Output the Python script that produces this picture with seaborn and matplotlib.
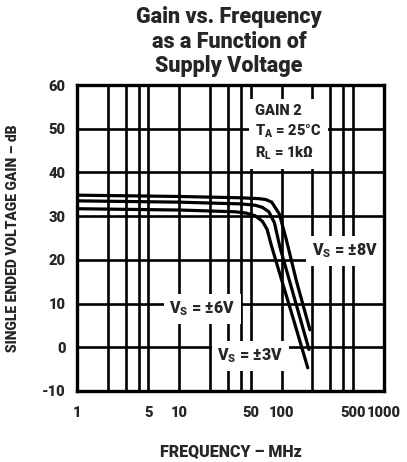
import numpy as np
import pandas as pd
import matplotlib
matplotlib.use("Agg")
import matplotlib.pyplot as plt
import seaborn as sns

# ---- data ----
freq_8v = [1, 10, 40, 60, 70, 80, 95, 110, 140, 189]
gain_8v = [34.8, 34.5, 34.2, 34.0, 33.8, 33.2, 30.5, 25.0, 15.0, 4.0]

freq_6v = [1, 10, 40, 55, 65, 75, 85, 96, 120, 150, 185]
gain_6v = [33.5, 33.2, 32.8, 32.5, 32.0, 31.0, 28.5, 23.0, 15.0, 7.0, -0.5]

freq_3v = [1, 10, 35, 45, 55, 65, 72, 80, 100, 130, 180]
gain_3v = [31.7, 31.4, 31.0, 30.7, 30.1, 28.8, 27.0, 23.0, 15.4, 6.5, -4.7]

series_names = ["±8V", "±6V", "±3V"]

xgrid = [1, 2, 3, 4, 5, 10, 20, 30, 40, 50, 100, 200, 300, 400, 500, 1000]
xticks = [1, 5, 10, 50, 100, 500, 1000]
xticklabels = ["1", "5", "10", "50", "100", "500", "1000"]
yticks = [-10, 0, 10, 20, 30, 40, 50, 60]
yticklabels = ["-10", "0", "10", "20", "30", "40", "50", "60"]

df = pd.concat([
    pd.DataFrame({"freq": freq_8v, "gain": gain_8v, "vs": series_names[0]}),
    pd.DataFrame({"freq": freq_6v, "gain": gain_6v, "vs": series_names[1]}),
    pd.DataFrame({"freq": freq_3v, "gain": gain_3v, "vs": series_names[2]}),
])

sns.set_style("white")
FONT = ["Roboto", "Liberation Sans", "DejaVu Sans"]
WEIGHT = "black"
plt.rcParams["font.family"] = FONT
plt.rcParams["font.weight"] = WEIGHT
plt.rcParams["axes.unicode_minus"] = False
plt.rcParams["mathtext.fontset"] = "custom"
plt.rcParams["mathtext.rm"] = "Roboto:black"
plt.rcParams["mathtext.bf"] = "Roboto:black"
plt.rcParams["mathtext.it"] = "Roboto:black"

fig = plt.figure(figsize=(4.07, 4.62), dpi=100)
ax = fig.add_axes([0.189, 0.1537, 0.7545, 0.6623])

ax.set_xscale("log")
ax.set_xlim(1, 1000)
ax.set_ylim(-10, 60)

for x in xgrid:
    ax.axvline(x, color="black", lw=1.9, zorder=1)
for y in yticks:
    ax.axhline(y, color="black", lw=1.9, zorder=1)

sns.lineplot(data=df, x="freq", y="gain", hue="vs", sort=False,
             palette=["black"] * 3, legend=False, lw=2.3, ax=ax, zorder=3)

ax.set_xticks(xticks)
ax.set_xticklabels(xticklabels)
ax.xaxis.set_minor_locator(matplotlib.ticker.NullLocator())
ax.set_yticks(yticks)
ax.set_yticklabels(yticklabels)
ax.tick_params(axis="both", length=0, labelsize=10.5)
ax.tick_params(axis="x", pad=11)
ax.tick_params(axis="y", pad=8)
for lab in ax.get_xticklabels() + ax.get_yticklabels():
    lab.set_fontweight(WEIGHT)

for s in ax.spines.values():
    s.set_color("black")
    s.set_linewidth(2.4)
    s.set_zorder(5)

ax.set_xlabel("FREQUENCY – MHz", fontsize=11.5, fontweight=WEIGHT, labelpad=17)
ax.set_ylabel("SINGLE ENDED VOLTAGE GAIN – dB", fontsize=10, fontweight=WEIGHT, labelpad=16)
ax.set_facecolor("white")

box = dict(facecolor="white", edgecolor="none", boxstyle="square,pad=0.35")
FS = 11.5

ax.text(55, 49.0, "GAIN 2\nT$_\\mathbf{A}$ = 25°C\nR$_\\mathbf{L}$ = 1kΩ", fontsize=10.5,
        fontweight=WEIGHT, va="center", ha="left", linespacing=1.35,
        bbox=dict(facecolor="white", edgecolor="none", boxstyle="square,pad=0.45"), zorder=4)
ax.text(196, 22.0, "V$_\\mathbf{S}$ = ±8V", fontsize=FS, fontweight=WEIGHT,
        va="center", ha="left", bbox=box, zorder=4)
ax.text(8.0, 8.8, "V$_\\mathbf{S}$ = ±6V", fontsize=FS, fontweight=WEIGHT,
        va="center", ha="left", bbox=box, zorder=4)
ax.text(23.5, -2.0, "V$_\\mathbf{S}$ = ±3V", fontsize=FS, fontweight=WEIGHT,
        va="center", ha="left", bbox=box, zorder=4)

fig.text(0.5627, 0.987, "Gain vs. Frequency\nas a Function of\nSupply Voltage",
         ha="center", va="top", fontsize=15.5, fontweight=WEIGHT, linespacing=1.15)

fig.savefig("out.png", dpi=100, facecolor="white")
